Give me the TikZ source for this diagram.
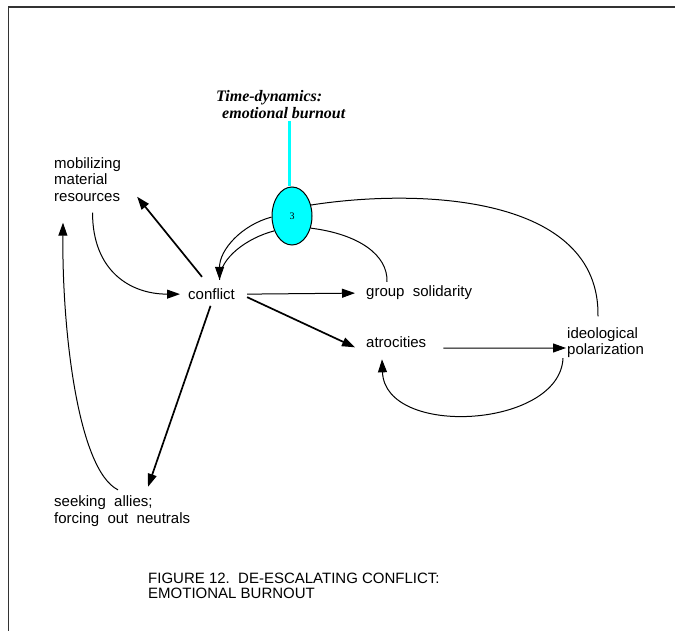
\documentclass[tikz,border=0pt]{standalone}
\usepackage{fontspec}
\setmainfont{Liberation Serif}
\newfontfamily\arialf{Liberation Sans}
\usetikzlibrary{arrows.meta,calc,shapes.geometric}
\definecolor{aqua}{RGB}{0,255,255}

\begin{document}
\begin{tikzpicture}[x=1pt,y=-1pt,
  lbl/.style={font=\arialf\fontsize{15}{16.5}\selectfont, inner sep=0pt, align=left},
  link/.style={line width=1pt},
  arr/.style={line width=1pt, -{Triangle[length=13pt,width=9pt]}},
  heavy/.style={line width=1.7pt},
]
\useasboundingbox (0,0) rectangle (675,631);
% page frame
\draw[line width=1.6pt, black!80] (8.5,631) -- (8.5,7) -- (675,7);

% factors
\node[lbl, anchor=base west] (conflict) at (188,299.5) {conflict};
\node[lbl, anchor=base west] (group) at (366,297) {group\ \ solidarity};
\node[lbl, anchor=base west] (atro) at (366,347) {atrocities};
\node[lbl, anchor=west] (ideo) at (567,342.7) {ideological\\polarization};
\node[lbl, anchor=west] (mob) at (54,179.5) {mobilizing\\material\\resources};
\node[lbl, anchor=west] (seek) at (54,511.3) {seeking\ \ allies;\\forcing\ \ out\ \ neutrals};
\node[ellipse, draw, line width=1pt, fill=aqua, minimum width=40pt, minimum height=58pt,
      inner sep=0pt, font=\fontsize{10}{12}\selectfont] (e) at (292,216) {3};

% time-dynamics annotation
\node[font=\bfseries\itshape\fontsize{16}{17}\selectfont, inner sep=0pt, align=left,
      anchor=north west] (title) at (216,90) {Time-dynamics:\\\hspace{6pt}emotional burnout};
\coordinate (ctop) at (289,121);
\draw[aqua, line width=3pt] (ctop) -- (ctop |- e.north);

% caption
\node[font=\arialf\fontsize{15}{15.5}\selectfont, inner sep=0pt, align=left, anchor=north west]
     (cap) at (148,572.8) {FIGURE 12.\ \ DE-ESCALATING CONFLICT:\\EMOTIONAL BURNOUT};

% connectors
\draw[arr] ($(conflict.east)+(12,0)$) -- ($(group.west)+(-11,0)$);
\draw[arr, heavy] ($(conflict.east)+(12,3)$) -- ($(atro.south west)+(-11,0)$);
\draw[arr, heavy] ($(conflict.north west)+(14,-11.6)$) -- ($(mob.south east)+(16,-5)$);
\draw[arr] ($(mob.south)+(5,11)$) .. controls +(0,58) and +(-50,0) .. ($(conflict.west)+(-8,0)$);
\draw[arr] ($(seek.north west)+(64,-6)$) .. controls +(-40,-20) and +(-1,108) .. ($(mob.south west)+(9,21)$);
\draw[arr, heavy] ($(conflict.south)+(-1,6)$) -- ($(seek.north west)+(94,-9)$);
\draw[arr] ($(atro.east)+(17,6.4)$) -- ($(ideo.west)+(-1,5.3)$);
\draw[arr] ($(ideo.south west)+(-4,0)$) .. controls +(-3,70) and +(3,79) .. ($(atro.south west)+(16,12)$);
\draw[link] (e.30) .. controls +(109,-17) and +(2,-121) .. ($(ideo.north west)+(31,-11)$);
\draw[link] (e.-33) .. controls +(48,6) and +(1,-27) .. ($(group.north west)+(21,-4)$);
\draw[link] (e.220) .. controls +(-27,7) and +(0,-22) .. ($(conflict.north)+(8,-8.6)$);
\draw[arr] (e.183) .. controls +(-30,8) and +(0,-30) .. ($(conflict.north)+(8,-8.6)$);
\end{tikzpicture}
\end{document}
